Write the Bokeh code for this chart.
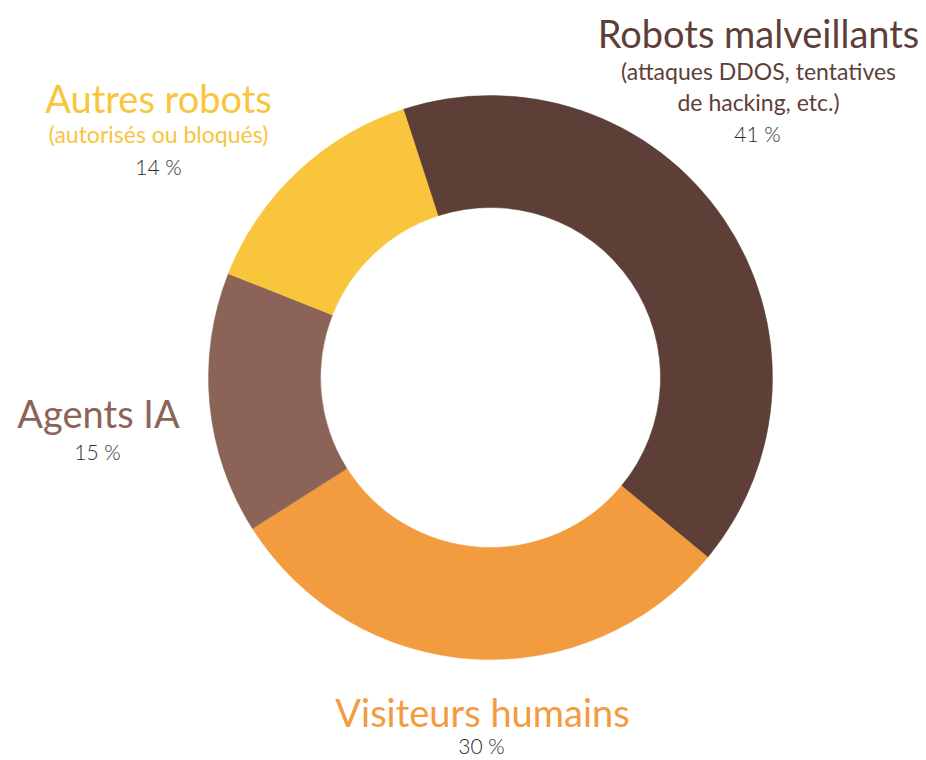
import math
from bokeh.plotting import figure
from bokeh.models import Range1d, ColumnDataSource
from bokeh.core.properties import value
from bokeh.embed import file_html
from bokeh.resources import INLINE

# ---- data ----
categories = ["Robots malveillants", "Visiteurs humains", "Agents IA", "Autres robots"]
subtitles = ["(attaques DDOS, tentatives\nde hacking, etc.)", "", "", "(autorisés ou bloqués)"]
shares = [41, 30, 15, 14]
colors = ["#5D3F38", "#F39C3F", "#8C6457", "#F8C53C"]

W, H = 926, 760
FONT = "Lato"

p = figure(width=W, height=H, output_backend="svg", toolbar_location=None,
           x_range=Range1d(0, W), y_range=Range1d(0, H), min_border=0)
p.axis.visible = False
p.grid.visible = False
p.outline_line_color = None
p.background_fill_color = "white"
p.border_fill_color = "white"

def px(x, y):
    # image pixel -> data coords
    return x, H - y

cx, cy = px(490, 377)
total = sum(shares)
start0 = math.radians(108)
starts, ends = [], []
a = start0
for s in shares:
    starts.append(a)
    a -= s / total * 2 * math.pi
    ends.append(a)

src = ColumnDataSource(dict(start=starts, end=ends, color=colors))
p.annular_wedge(x=cx, y=cy, inner_radius=170, outer_radius=282,
                start_angle="end", end_angle="start", fill_color="color",
                line_color="color", line_width=0.5, source=src)

layout = {
    "Robots malveillants": dict(t=(758, 32), sub=[(758, 70), (758, 101)], pct=(757, 133)),
    "Autres robots": dict(t=(158, 97), sub=[(158, 133)], pct=(158, 166)),
    "Agents IA": dict(t=(98, 412), sub=[], pct=(97, 451)),
    "Visiteurs humains": dict(t=(482, 711), sub=[], pct=(481, 745)),
}

for cat, sub, sh, col in zip(categories, subtitles, shares, colors):
    L = layout[cat]
    x, y = px(*L["t"])
    p.text(x=[x], y=[y], text=[cat], text_color=col, text_font=value(FONT),
           text_font_size="38px", text_align="center", text_baseline="middle")
    lines = [s for s in sub.split("\n") if s]
    for line, pos in zip(lines, L["sub"]):
        x, y = px(*pos)
        p.text(x=[x], y=[y], text=[line], text_color=col, text_font=value(FONT),
               text_font_size="23px", text_align="center", text_baseline="middle")
    x, y = px(*L["pct"])
    p.text(x=[x], y=[y], text=[f"{sh} %"], text_color="#2b2b2b",
           text_font=value("Lato Light"), text_font_size="21px",
           text_align="center", text_baseline="middle")

open("out.html", "w").write(file_html(p, INLINE))
